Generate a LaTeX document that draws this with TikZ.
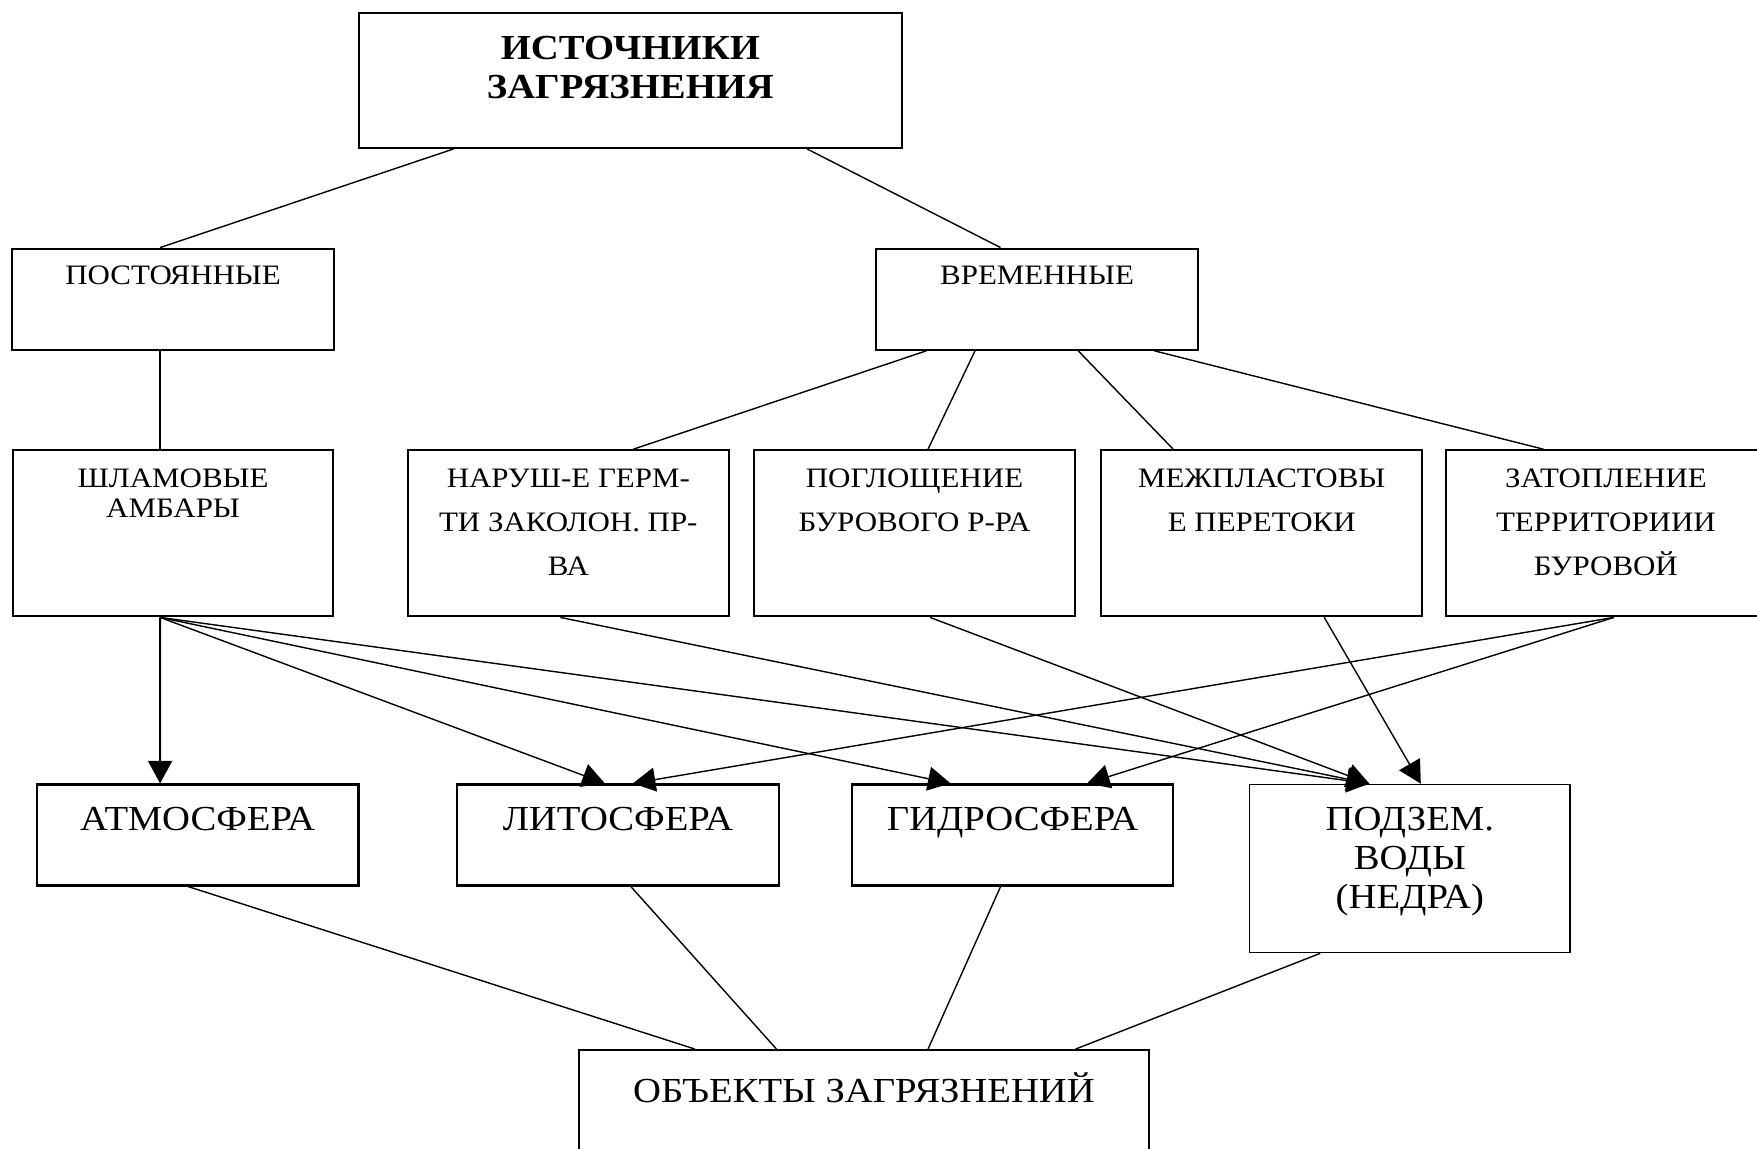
\documentclass[tikz,border=0pt]{standalone}
\usepackage{fontspec}
\setmainfont{Liberation Serif}[FakeStretch=1.1]
\usetikzlibrary{arrows.meta}

% text block at the top of a box: width, height, gap above the text, text
\newcommand{\boxtxt}[4]{\parbox[c][#2][t]{#1}{\vspace*{#3}\centering #4}}

\begin{document}
\begin{tikzpicture}[>={Triangle[length=0.45cm, width=0.48cm]}, line width=0.8pt]
	\tikzstyle{box} = [draw=black, line width=1.2pt, inner sep=0pt, rectangle]
	\tikzstyle{small} = [font=\fontsize{16}{25}\selectfont]
	\tikzstyle{big} = [font=\fontsize{20}{22.3}\selectfont]

	\useasboundingbox (0,0) rectangle (35.12,-22.96);

	\node[box, big] 	at (12.60, -1.61) 	(src) 	{\boxtxt{10.86cm}{2.69cm}{0.45cm}{\bfseries ИСТОЧНИКИ\\ЗАГРЯЗНЕНИЯ}};

	\node[box, small] 	at (3.46, -5.98) 	(post) 	{\boxtxt{6.43cm}{2.02cm}{0.34cm}{ПОСТОЯННЫЕ}};
	\node[box, small] 	at (20.73, -5.98) 	(temp) 	{\boxtxt{6.43cm}{2.02cm}{0.34cm}{ВРЕМЕННЫЕ}};

	\node[box, font=\fontsize{16}{17}\selectfont] at (3.46, -10.66) (shlam) {\boxtxt{6.41cm}{3.32cm}{0.38cm}{ШЛАМОВЫЕ\\АМБАРЫ}};
	\node[box, small] 	at (11.36, -10.66) 	(narush) {\boxtxt{6.41cm}{3.32cm}{0.38cm}{НАРУШ-Е ГЕРМ-\\ТИ ЗАКОЛОН. ПР-\\ВА}};
	\node[box, small] 	at (18.28, -10.66) 	(pogl) 	{\boxtxt{6.41cm}{3.32cm}{0.38cm}{ПОГЛОЩЕНИЕ\\БУРОВОГО Р-РА}};
	\node[box, small] 	at (25.22, -10.66) 	(mezh) 	{\boxtxt{6.41cm}{3.32cm}{0.38cm}{МЕЖПЛАСТОВЫ\\Е ПЕРЕТОКИ}};
	\node[box, small] 	at (32.10, -10.66) 	(zatop) {\boxtxt{6.41cm}{3.32cm}{0.38cm}{ЗАТОПЛЕНИЕ\\ТЕРРИТОРИИИ\\БУРОВОЙ}};

	\node[box, big] 	at (3.95, -16.69) 	(atmo) 	{\boxtxt{6.43cm}{2.02cm}{0.45cm}{АТМОСФЕРА}};
	\node[box, big] 	at (12.35, -16.69) 	(lito) 	{\boxtxt{6.43cm}{2.02cm}{0.45cm}{ЛИТОСФЕРА}};
	\node[box, big] 	at (20.24, -16.69) 	(gidro) {\boxtxt{6.43cm}{2.02cm}{0.45cm}{ГИДРОСФЕРА}};
	\node[box, big, line width=0.9pt] at (28.18, -17.36) (podzem) {\boxtxt{6.41cm}{3.36cm}{0.45cm}{ПОДЗЕМ.\\ВОДЫ\\(НЕДРА)}};

	\node[box, big] 	at (17.27, -22.055) (obj) 	{\boxtxt{11.38cm}{2.13cm}{0.45cm}{ОБЪЕКТЫ ЗАГРЯЗНЕНИЙ}};

	% sources
	\path
	([xshift=-3.53cm]src.south) 	edge 	([xshift=-0.26cm]post.north)
	([xshift=3.53cm]src.south) 	edge 	([xshift=-0.73cm]temp.north)
	([xshift=-0.26cm]post.south) 	edge 	([xshift=-0.26cm]shlam.north)
	([xshift=-2.21cm]temp.south) 	edge 	([xshift=1.30cm]narush.north)
	([xshift=-1.24cm]temp.south) 	edge 	([xshift=0.27cm]pogl.north)
	([xshift=0.82cm]temp.south) 	edge 	([xshift=-1.77cm]mezh.north)
	([xshift=2.34cm]temp.south) 	edge 	([xshift=-1.25cm]zatop.north);

	% what gets polluted
	\path[->]
	([xshift=-0.26cm]shlam.south) 	edge[line width=1.1pt] ([xshift=-0.75cm]atmo.north)
	([xshift=-0.26cm]shlam.south) 	edge 	([xshift=-0.26cm]lito.north)
	([xshift=-0.26cm]shlam.south) 	edge 	([xshift=-1.24cm]gidro.north)
	([xshift=-0.26cm]shlam.south) 	edge 	([xshift=-0.81cm]podzem.north)
	([xshift=-0.16cm]narush.south) 	edge 	([xshift=-0.81cm]podzem.north)
	([xshift=0.31cm]pogl.south) 	edge 	([xshift=-0.81cm]podzem.north)
	([xshift=1.25cm]mezh.south) 	edge 	([xshift=0.22cm]podzem.north)
	([xshift=0.16cm]zatop.south) 	edge 	([xshift=0.30cm]lito.north)
	([xshift=0.16cm]zatop.south) 	edge 	([xshift=1.49cm]gidro.north);

	\path
	([xshift=-0.19cm]atmo.south) 	edge 	([xshift=-3.38cm]obj.north)
	([xshift=0.26cm]lito.south) 	edge 	([xshift=-1.75cm]obj.north)
	([xshift=-0.24cm]gidro.south) 	edge 	([xshift=1.28cm]obj.north)
	([xshift=-1.79cm]podzem.south) 	edge 	([xshift=4.23cm]obj.north);
\end{tikzpicture}
\end{document}
